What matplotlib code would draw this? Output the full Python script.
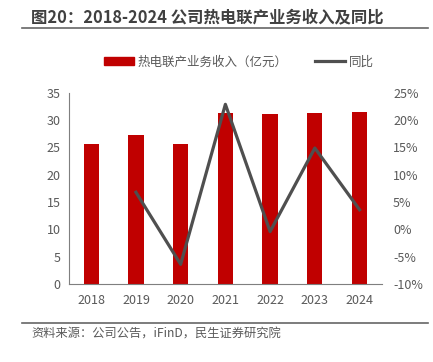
import matplotlib
matplotlib.use("Agg")
import matplotlib.pyplot as plt
from matplotlib.lines import Line2D
from matplotlib.patches import Patch
from matplotlib.ticker import FuncFormatter

plt.rcParams['font.family'] = ['Noto Sans CJK SC', 'DejaVu Sans']

years = ['2018', '2019', '2020', '2021', '2022', '2023', '2024']
revenue = [25.6, 27.3, 25.6, 31.3, 31.2, 31.4, 31.5]
yoy_years = ['2019', '2020', '2021', '2022', '2023', '2024']
yoy = [6.8, -6.4, 22.9, -0.4, 14.9, 3.6]

red = '#C00000'
grey_line = '#4F4F4F'
txt = '#595959'

fig = plt.figure(figsize=(4.33, 3.62), dpi=100)

# title + rule
fig.text(0.072, 0.952, '图20：2018-2024 公司热电联产业务收入及同比', fontsize=11.8,
         fontweight='bold', color='#404040', va='center', ha='left')
fig.add_artist(Line2D([0.051, 0.988], [0.922, 0.922], color='#666666', lw=1.2))

ax = fig.add_axes([0.159, 0.2155, 0.723, 0.528])
x = list(range(len(years)))
ax.bar(x, revenue, width=0.34, color=red, zorder=2)
ax.set_xlim(-0.5, len(years) - 0.5)
ax.set_ylim(0, 35)
ax.set_yticks(range(0, 36, 5))
ax.set_xticks(x)
ax.set_xticklabels(years)
for s in ['top', 'right']:
    ax.spines[s].set_visible(False)
ax.spines['left'].set_color('#7f7f7f')
ax.spines['bottom'].set_color('#7f7f7f')
ax.tick_params(length=0, labelsize=9, colors=txt, pad=6)
ax.tick_params(axis='x', pad=7)

ax2 = ax.twinx()
xl = [years.index(y) for y in yoy_years]
ax2.plot(xl, yoy, color=grey_line, lw=2.3, zorder=3)
ax2.set_ylim(-10, 25)
ax2.set_yticks(range(-10, 26, 5))
ax2.yaxis.set_major_formatter(FuncFormatter(lambda v, p: '%d%%' % v))
for s in ['top', 'right', 'left', 'bottom']:
    ax2.spines[s].set_visible(False)
ax2.tick_params(length=0, labelsize=9, colors=txt, pad=8)

handles = [Patch(color=red), Line2D([], [], color=grey_line, lw=2.3)]
fig.legend(handles, ['热电联产业务收入（亿元）', '同比'], loc='center',
           bbox_to_anchor=(0.552, 0.829), ncol=2, frameon=False, fontsize=9,
           labelcolor=txt, handlelength=2.4, handleheight=0.6,
           columnspacing=2.2, handletextpad=0.3)

# footer
fig.add_artist(Line2D([0.051, 0.988], [0.107, 0.107], color='#666666', lw=1.2))
fig.text(0.072, 0.078, '资料来源：公司公告，iFinD，民生证券研究院', fontsize=8.8,
         color=txt, va='center', ha='left')

fig.savefig('out.png', dpi=100)
